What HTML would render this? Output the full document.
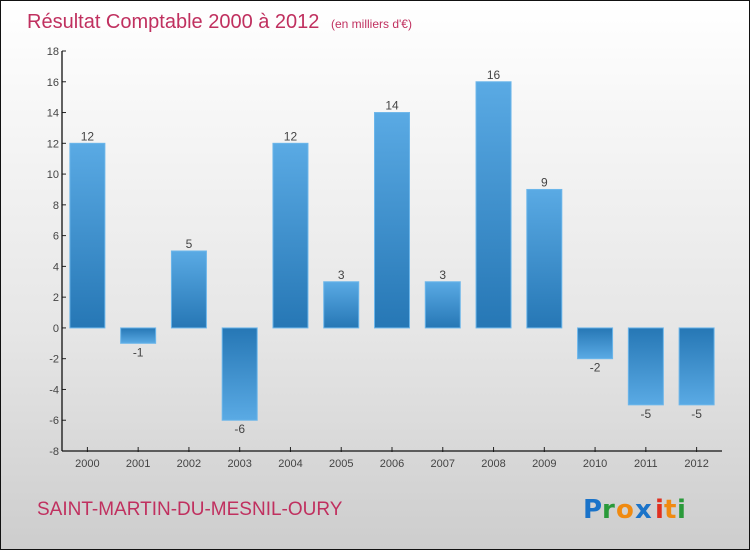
<!DOCTYPE html>
<html><head><meta charset="utf-8"><style>
html,body{margin:0;padding:0}
body{width:750px;height:550px;overflow:hidden;font-family:"Liberation Sans",sans-serif}
#wrap{position:relative;width:748px;height:548px;border:1px solid #111;background:linear-gradient(#ffffff,#e6e6e6 60%,#cdcdcd)}
svg{position:absolute;left:0;top:0}
</style></head><body>
<div id="wrap">
<svg id="chart" width="750" height="550">
<defs>
<linearGradient id="gpos" x1="0" y1="0" x2="0" y2="1"><stop offset="0" stop-color="#5aaae4"/><stop offset="1" stop-color="#2677b5"/></linearGradient>
<linearGradient id="gneg" x1="0" y1="0" x2="0" y2="1"><stop offset="0" stop-color="#2677b5"/><stop offset="1" stop-color="#5aaae4"/></linearGradient>
</defs>
<text x="26" y="27" font-size="20" fill="#c0305f">Résultat Comptable 2000 à 2012 <tspan font-size="12" dx="6">(en milliers d'€)</tspan></text>
<text x="36" y="514" font-size="19" fill="#c0305f">SAINT-MARTIN-DU-MESNIL-OURY</text>
<g font-size="26" font-weight="bold" font-family="DejaVu Sans, sans-serif">
<text x="582" y="517" fill="#1a73c9">P</text><text x="601" y="517" fill="#2a9a3a">r</text><text x="615" y="517" fill="#f08a10">o</text><text x="634" y="517" fill="#1a73c9">x</text><text x="654" y="517" fill="#e03020">i</text><text x="663" y="517" fill="#f08a10">t</text><text x="676" y="517" fill="#2a9a3a">i</text>
</g>
<g id="plot"></g>
</svg>
</div>
<script>
const categories=["2000","2001","2002","2003","2004","2005","2006","2007","2008","2009","2010","2011","2012"];
const values=[12,-1,5,-6,12,3,14,3,16,9,-2,-5,-5];
const yTicks=[18,16,14,12,10,8,6,4,2,0,-2,-4,-6,-8];
const yMin=-8,yMax=18,plotTop=50,plotBottom=450,plotLeft=61,plotRight=721;
const ns="http://www.w3.org/2000/svg";
const g=document.getElementById('plot');
function yScale(v){return plotBottom-(v-yMin)/(yMax-yMin)*(plotBottom-plotTop);}
const band=(plotRight-plotLeft)/categories.length;
function xScale(i){return plotLeft+band*(i+0.5);}
function mk(t,a){const e=document.createElementNS(ns,t);for(const k in a)e.setAttribute(k,a[k]);g.appendChild(e);return e;}
values.forEach((v,i)=>{
 const y0=yScale(0),y1=yScale(v);
 const r=mk('rect',{x:xScale(i)-17.5,y:Math.min(y0,y1),width:35,height:Math.abs(y1-y0),fill:v>=0?'url(#gpos)':'url(#gneg)',stroke:'#6cb6ea','stroke-width':1});
 
 
 const t=mk('text',{x:xScale(i),y:v>=0?y1-3:y1+13,'text-anchor':'middle','font-size':12,fill:'#444'});
 t.textContent=v;
 
 
 const tk=mk('line',{x1:xScale(i),x2:xScale(i),y1:plotBottom-4,y2:plotBottom+1,stroke:'#222'});
 
 
 const xl=mk('text',{x:xScale(i),y:plotBottom+16,'text-anchor':'middle','font-size':11,fill:'#444'});
 xl.textContent=categories[i];
 
 
});
yTicks.forEach(v=>{
 const tk=mk('line',{x1:plotLeft,x2:plotLeft+4,y1:yScale(v),y2:yScale(v),stroke:'#222'});
 
 
 const l=mk('text',{x:plotLeft-3,y:yScale(v)+4,'text-anchor':'end','font-size':11,fill:'#444'});
 l.textContent=v;
 
 
});
const ya=mk('line',{x1:plotLeft,x2:plotLeft,y1:plotTop,y2:plotBottom,stroke:'#111','stroke-width':1.3});


const xa=mk('line',{x1:plotLeft,x2:plotRight,y1:plotBottom,y2:plotBottom,stroke:'#111','stroke-width':1.3});


</script>
</body></html>
